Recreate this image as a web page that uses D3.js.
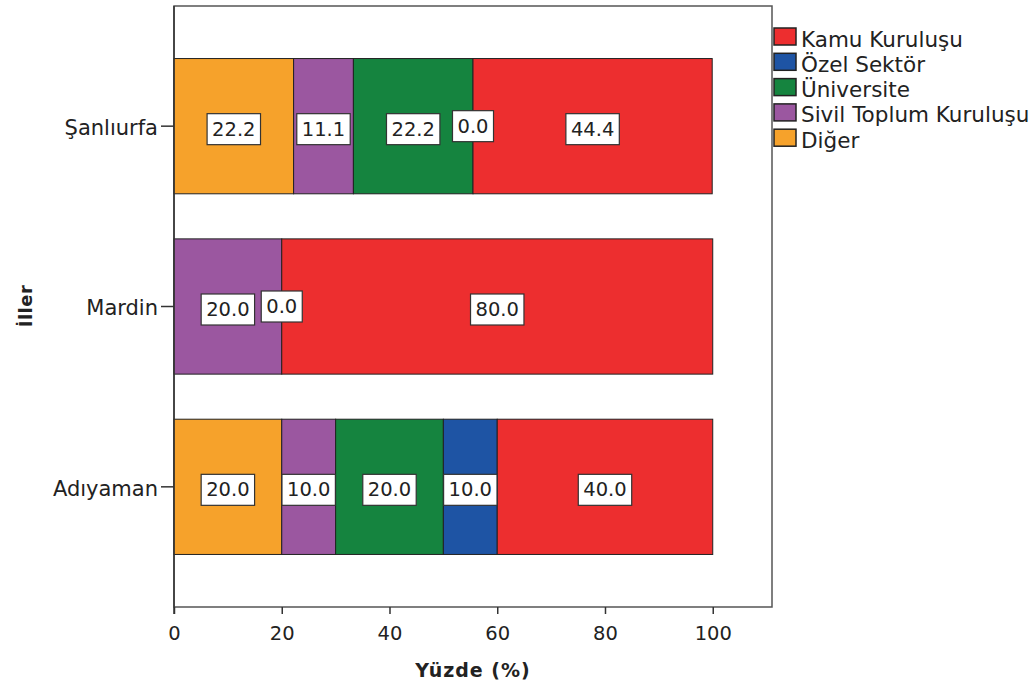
<!DOCTYPE html>
<html><head><meta charset="utf-8">
<script src="https://cdn.jsdelivr.net/npm/d3@7"></script>
<style>
body{margin:0;background:#fff;}
text{font-family:"DejaVu Sans",sans-serif;fill:#222;}
</style></head>
<body><svg id="c" width="1036" height="684"></svg>
<script>
const cities = ["Şanlıurfa", "Mardin", "Adıyaman"];
const categories = ["Kamu Kuruluşu", "Özel Sektör", "Üniversite", "Sivil Toplum Kuruluşu", "Diğer"];
const colors = ["#ED2E2F", "#1E54A4", "#15843F", "#9B57A0", "#F6A22B"];
// values per category, in city order (null = not present)
const kamu = [44.4, 80.0, 40.0];
const ozel = [0.0, 0.0, 10.0];
const universite = [22.2, null, 20.0];
const sivil = [11.1, 20.0, 10.0];
const diger = [22.2, null, 20.0];
const xTicks = [0, 20, 40, 60, 80, 100];

const seriesByCat = {"Kamu Kuruluşu": kamu, "Özel Sektör": ozel, "Üniversite": universite, "Sivil Toplum Kuruluşu": sivil, "Diğer": diger};
const stackOrder = ["Diğer", "Sivil Toplum Kuruluşu", "Üniversite", "Özel Sektör", "Kamu Kuruluşu"];
const color = d3.scaleOrdinal().domain(categories).range(colors);

const svg = d3.select("#c");
const L = 174, R = 772, T = 6, B = 607;
const x = d3.scaleLinear().domain([0, 111]).range([L, R]);
const y = d3.scaleBand().domain(cities).range([36, 577]).paddingInner(0.25).paddingOuter(0.125);

// frame
svg.append("rect").attr("x", L).attr("y", T).attr("width", R - L).attr("height", B - T)
  .attr("fill", "none").attr("stroke", "#555").attr("stroke-width", 1.5);

// build segments
const segs = [];
cities.forEach((c, i) => {
  let acc = 0;
  stackOrder.forEach(cat => {
    const v = seriesByCat[cat][i];
    if (v === null) return;
    segs.push({city: c, cat, v, x0: acc, x1: acc + v});
    acc += v;
  });
});

svg.append("g").selectAll("rect").data(segs.filter(d => d.v > 0)).join("rect")
  .attr("x", d => x(d.x0)).attr("y", d => y(d.city))
  .attr("width", d => x(d.x1) - x(d.x0)).attr("height", y.bandwidth())
  .attr("fill", d => color(d.cat)).attr("stroke", "#222").attr("stroke-width", 1);

// value labels
const lab = svg.append("g");
segs.forEach(d => {
  const cx = x((d.x0 + d.x1) / 2);
  const cy = y(d.city) + y.bandwidth() / 2 + (d.v === 0 ? 0 : 3);
  const g = lab.append("g");
  const t = g.append("text").attr("x", cx).attr("y", cy).attr("text-anchor", "middle")
    .attr("dominant-baseline", "central").style("font-size", "19.5px").text(d.v.toFixed(1));
  const bb = t.node().getBBox();
  g.insert("rect", "text").attr("x", bb.x - 5).attr("y", cy - 15.5).attr("width", bb.width + 10).attr("height", 31)
    .attr("fill", "#fff").attr("stroke", "#333").attr("stroke-width", 1.2);
});

// x axis
const xa = svg.append("g").attr("transform", `translate(0,${B})`)
  .call(d3.axisBottom(x).tickValues(xTicks).tickSize(7).tickFormat(d3.format("d")));
xa.select(".domain").remove();
xa.selectAll("line").attr("stroke", "#333").attr("stroke-width", 1.5);
xa.selectAll("text").style("font-family", "DejaVu Sans").style("font-size", "19.5px").attr("fill", "#222").attr("dy", "1.2em");

// y axis
const ya = svg.append("g").attr("transform", `translate(${L},0)`)
  .call(d3.axisLeft(y).tickSize(13).tickPadding(3));
ya.select(".domain").remove();
ya.selectAll("line").attr("stroke", "#333").attr("stroke-width", 1.5);
ya.selectAll("text").style("font-family", "DejaVu Sans").style("font-size", "21px").attr("fill", "#222").attr("dy", "0.42em");
svg.append("line").attr("x1", L).attr("x2", L).attr("y1", T).attr("y2", B + 7).attr("stroke", "#333").attr("stroke-width", 1.5);

// titles
svg.append("text").attr("x", (L + R) / 2).attr("y", 677).attr("text-anchor", "middle")
  .style("font-size", "19px").style("font-weight", "bold").style("letter-spacing", "1px").text("Yüzde (%)");
svg.append("text").attr("transform", "translate(32,306) rotate(-90)").attr("text-anchor", "middle")
  .style("font-size", "18px").style("font-weight", "bold").style("letter-spacing", "0.5px").text("İller");

// legend
const lg = svg.append("g").attr("transform", "translate(774,28)");
categories.forEach((c, i) => {
  const g = lg.append("g").attr("transform", `translate(0,${i * 25.3})`);
  g.append("rect").attr("x", 0).attr("y", 0).attr("width", 22).attr("height", 17)
    .attr("fill", color(c)).attr("stroke", "#222").attr("stroke-width", 1.5);
  g.append("text").attr("x", 27).attr("y", 11).attr("dominant-baseline", "central")
    .style("font-size", "21.5px").text(c);
});
</script></body></html>
